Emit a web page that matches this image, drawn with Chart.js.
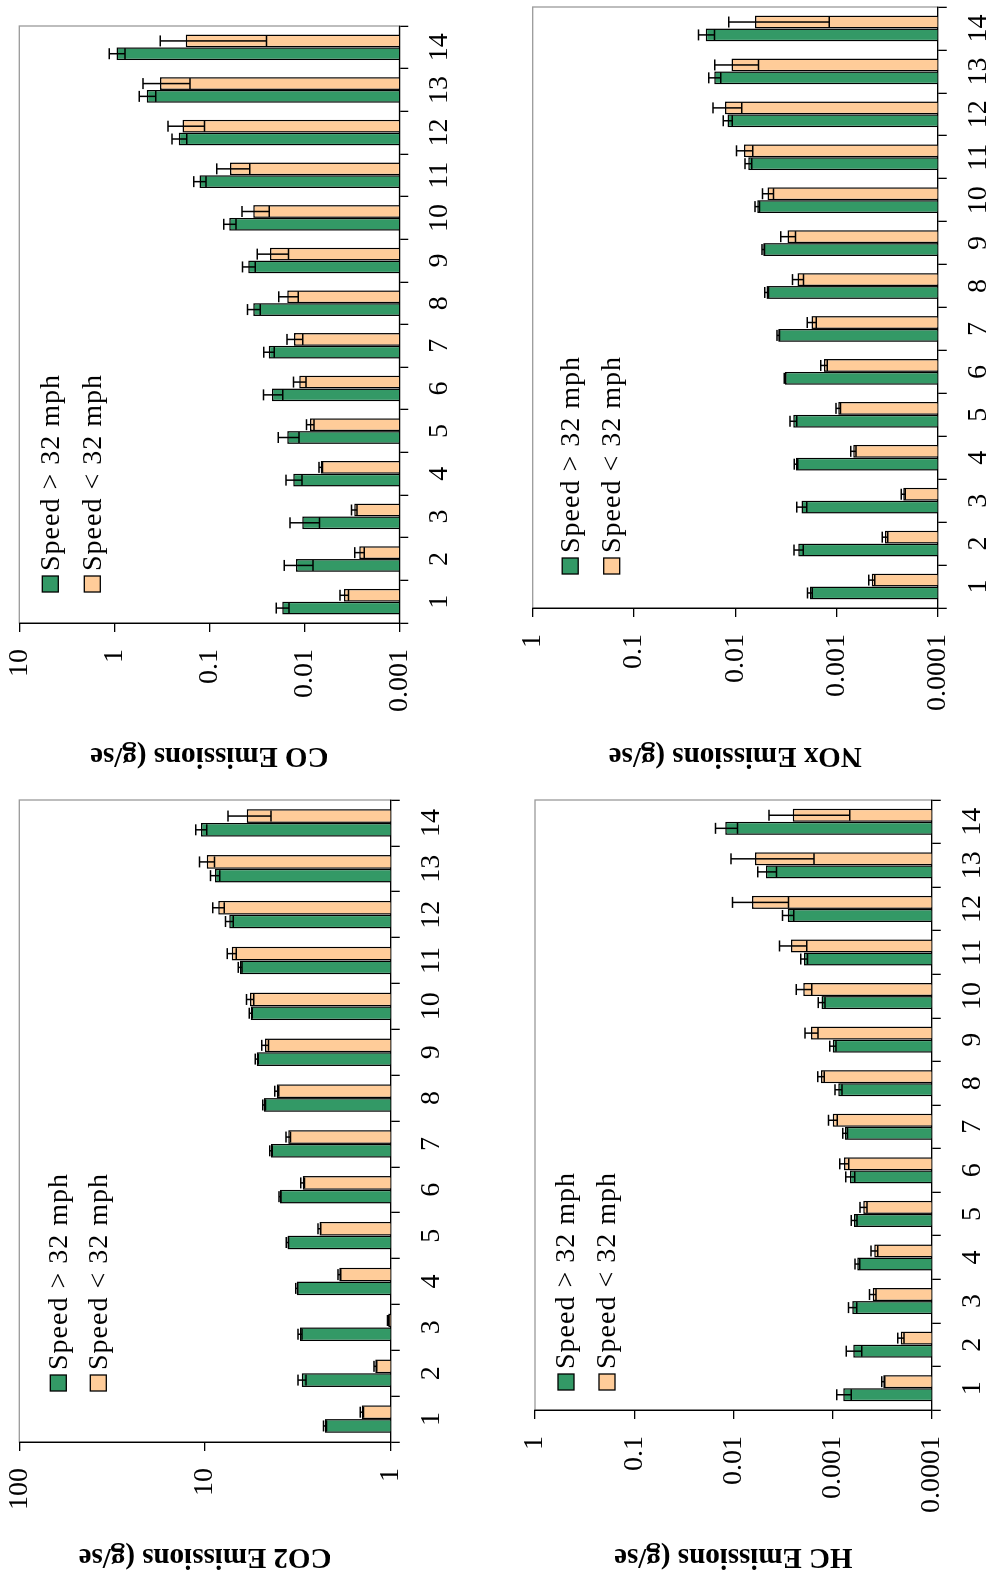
<!DOCTYPE html>
<html>
<head>
<meta charset="utf-8">
<script src="https://cdn.jsdelivr.net/npm/chart.js@4.4.0/dist/chart.umd.min.js"></script>
<style>
  html, body { margin: 0; padding: 0; background: #fff; overflow: hidden; }
  /* the figure is laid out upright, then turned a quarter turn like the scan */
  #page {
    position: absolute; left: 0; top: 0;
    width: 1585px; height: 990px;
    transform-origin: 0 0;
    transform: translateY(1585px) rotate(-90deg);
    background: #fff;
  }
  #page canvas { position: absolute; }
</style>
</head>
<body>
<div id="page">
  <canvas id="co2" width="792" height="495" style="left:0;top:0;width:792px;height:495px"></canvas>
  <canvas id="co" width="790" height="495" style="left:795px;top:0;width:790px;height:495px"></canvas>
  <canvas id="hc" width="792" height="495" style="left:0;top:495px;width:792px;height:495px"></canvas>
  <canvas id="nox" width="790" height="495" style="left:795px;top:495px;width:790px;height:495px"></canvas>
</div>
<script>
var categories = ['1', '2', '3', '4', '5', '6', '7', '8', '9', '10', '11', '12', '13', '14'];
var seriesLabels = ['Speed > 32 mph', 'Speed < 32 mph'];

// CO2 (g/sec)
var co2Fast    = [2.26, 3.01, 3.08, 3.21, 3.60, 3.95, 4.41, 4.81, 5.27, 5.67, 6.48, 7.40, 8.83, 10.5];
var co2FastErr = [0.04, 0.15, 0.08, 0.04, 0.05, 0.05, 0.07, 0.08, 0.1, 0.1, 0.15, 0.35, 0.5, 0.7];
var co2Slow    = [1.43, 1.21, 1.03, 1.89, 2.42, 2.98, 3.56, 4.11, 4.75, 5.72, 7.18, 8.48, 9.8, 5.96];
var co2SlowErr = [0.03, 0.02, 0.01, 0.03, 0.04, 0.07, 0.1, 0.1, 0.2, 0.25, 0.4, 0.6, 0.9, 1.55];
var co2Ticks   = [1, 10, 100];

// CO
var coFast    = [0.0171, 0.0122, 0.0105, 0.0131, 0.0151, 0.0219, 0.0237, 0.0344, 0.0388, 0.0615, 0.127, 0.210, 0.456, 0.950];
var coFastErr = [0.0026, 0.0041, 0.0036, 0.0025, 0.0037, 0.005, 0.003, 0.0053, 0.006, 0.009, 0.019, 0.037, 0.09, 0.18];
var coSlow    = [0.00382, 0.00264, 0.00298, 0.00672, 0.0087, 0.0113, 0.0128, 0.0151, 0.0230, 0.0344, 0.0605, 0.192, 0.330, 0.177];
var coSlowErr = [0.0004, 0.0003, 0.0002, 0.0003, 0.0008, 0.0017, 0.0024, 0.0035, 0.0083, 0.011, 0.023, 0.08, 0.17, 0.152];
var coTicks   = [0.001, 0.01, 0.1, 1, 10];

// HC
var hcFast    = [0.000778, 0.000617, 0.000631, 0.000562, 0.000607, 0.000666, 0.000748, 0.000874, 0.000995, 0.00129, 0.00194, 0.00283, 0.00468, 0.0121];
var hcFastErr = [0.00013, 0.00011, 0.00006, 0.00003, 0.00004, 0.00007, 0.00004, 0.00007, 0.00007, 0.0001, 0.00015, 0.00037, 0.001, 0.003];
var hcSlow    = [0.000308, 0.000205, 0.000394, 0.000379, 0.000489, 0.000766, 0.000995, 0.00131, 0.00165, 0.00197, 0.00262, 0.00648, 0.00604, 0.00252];
var hcSlowErr = [0.00001, 0.000015, 0.00003, 0.00003, 0.00004, 0.00008, 0.0001, 0.0001, 0.00025, 0.00035, 0.0008, 0.0037, 0.0045, 0.00185];
var hcTicks   = [0.0001, 0.001, 0.01, 0.1, 1];

// NOx
var noxFast    = [0.00183, 0.00238, 0.00221, 0.00251, 0.00267, 0.00323, 0.00376, 0.0049, 0.00529, 0.00606, 0.00744, 0.0119, 0.0161, 0.0195];
var noxFastErr = [0.0001, 0.00025, 0.00025, 0.0001, 0.0002, 0.00005, 0.0001, 0.0002, 0.00015, 0.0003, 0.00056, 0.0012, 0.0022, 0.0035];
var noxSlow    = [0.000449, 0.000332, 0.000219, 0.000682, 0.00096, 0.00133, 0.00176, 0.00242, 0.00304, 0.00479, 0.0082, 0.0126, 0.0109, 0.00638];
var noxSlowErr = [0.00003, 0.00002, 0.00001, 0.00004, 0.00005, 0.0001, 0.00018, 0.0003, 0.0005, 0.0006, 0.0015, 0.004, 0.005, 0.0052];
var noxTicks   = [0.0001, 0.001, 0.01, 0.1, 1];

var FONT = 'Liberation Serif';
var GREEN = '#339966';
var PEACH = '#FFCC99';

Chart.defaults.font.family = FONT;
Chart.defaults.color = '#000';

function makePanel(id, fast, fastErr, slow, slowErr, ticks, titleText, box) {
  var errs = [fastErr, slowErr];

  // light grey plot-area frame, axes drawn over it in black
  var frame = {
    id: 'frame',
    beforeDraw: function (chart) {
      var ca = chart.chartArea, ctx = chart.ctx;
      ctx.save();
      ctx.strokeStyle = '#9a9a9a';
      ctx.lineWidth = 1.3;
      ctx.strokeRect(ca.left, ca.top, ca.right - ca.left, ca.bottom - ca.top);
      ctx.restore();
    }
  };

  // +/- error bars
  var errorBars = {
    id: 'errorBars',
    afterDatasetsDraw: function (chart) {
      var ctx = chart.ctx, y = chart.scales.y;
      ctx.save();
      ctx.strokeStyle = '#000';
      ctx.lineWidth = 1.5;
      chart.data.datasets.forEach(function (ds, i) {
        chart.getDatasetMeta(i).data.forEach(function (bar, j) {
          var v = ds.data[j], e = errs[i][j];
          var top = y.getPixelForValue(v + e);
          var bot = (v - e > y.min) ? y.getPixelForValue(v - e) : y.bottom;
          ctx.beginPath();
          ctx.moveTo(bar.x, top); ctx.lineTo(bar.x, bot);
          ctx.moveTo(bar.x - 5.5, top); ctx.lineTo(bar.x + 5.5, top);
          ctx.moveTo(bar.x - 5.5, bot); ctx.lineTo(bar.x + 5.5, bot);
          ctx.stroke();
        });
      });
      ctx.restore();
    }
  };

  // legend sits inside the plot area
  var innerLegend = {
    id: 'innerLegend',
    afterDraw: function (chart) {
      var ca = chart.chartArea, ctx = chart.ctx;
      ctx.save();
      ctx.font = '28px "' + FONT + '"';
      if ('letterSpacing' in ctx) ctx.letterSpacing = '1px';
      ctx.textBaseline = 'middle';
      chart.data.datasets.forEach(function (ds, i) {
        var x = ca.left + box.legX, cy = ca.top + box.legY[i];
        ctx.fillStyle = ds.backgroundColor;
        ctx.fillRect(x, cy - 8, 16, 16);
        ctx.strokeStyle = '#000';
        ctx.lineWidth = 1.3;
        ctx.strokeRect(x, cy - 8, 16, 16);
        ctx.fillStyle = '#000';
        ctx.fillText(ds.label, x + 21, cy + 1);
      });
      ctx.restore();
    }
  };

  return new Chart(document.getElementById(id), {
    type: 'bar',
    data: {
      labels: categories,
      datasets: [{
        label: seriesLabels[0],
        data: fast,
        backgroundColor: GREEN,
        borderColor: '#000',
        borderWidth: 1.5,
        categoryPercentage: 0.6,
        barPercentage: 1.0
      }, {
        label: seriesLabels[1],
        data: slow,
        backgroundColor: PEACH,
        borderColor: '#000',
        borderWidth: 1.5,
        categoryPercentage: 0.6,
        barPercentage: 1.0
      }]
    },
    options: {
      responsive: false,
      animation: false,
      layout: { padding: { left: 0, top: box.padTop, right: box.padRight, bottom: box.padBottom } },
      plugins: { legend: { display: false }, tooltip: { enabled: false } },
      scales: {
        x: {
          type: 'category',
          afterFit: function (s) { s.height = 50; s.paddingLeft = 0; s.paddingRight = 0; },
          ticks: { font: { size: 28 }, color: '#000', padding: 15, maxRotation: 0, autoSkip: false },
          grid: { offset: true, drawOnChartArea: false, tickLength: 9, color: '#000', lineWidth: 1.3 },
          border: { color: '#000', width: 1.3 }
        },
        y: {
          type: 'logarithmic',
          min: ticks[0],
          max: ticks[ticks.length - 1],
          afterBuildTicks: function (s) {
            s.ticks = ticks.map(function (v) { return { value: v }; });
          },
          afterFit: function (s) { s.width = box.axisW; s.paddingTop = 0; s.paddingBottom = 0; },
          ticks: {
            font: { size: 28 }, color: '#000', padding: 17, autoSkip: false,
            callback: function (v) { return String(v); }
          },
          grid: { drawOnChartArea: false, tickLength: 9, color: '#000', lineWidth: 1.3 },
          border: { color: '#000', width: 1.3 },
          title: {
            display: true,
            text: titleText,
            color: '#000',
            font: { size: 29, weight: 'bold' },
            padding: { top: box.titlePad, bottom: 0 }
          }
        }
      }
    },
    plugins: [frame, errorBars, innerLegend]
  });
}

makePanel('co2', co2Fast, co2FastErr, co2Slow, co2SlowErr, co2Ticks, 'CO2 Emissions (g/se',
  { axisW: 143, padTop: 19.3, padRight: 7, padBottom: 54.3, titlePad: 11, legX: 51, legY: [39, 79] });
makePanel('co', coFast, coFastErr, coSlow, coSlowErr, coTicks, 'CO Emissions (g/se',
  { axisW: 167, padTop: 19.3, padRight: 26, padBottom: 45.7, titlePad: 17.6, legX: 31, legY: [31, 73] });
makePanel('hc', hcFast, hcFastErr, hcSlow, hcSlowErr, hcTicks, 'HC Emissions (g/se',
  { axisW: 175, padTop: 40, padRight: 7, padBottom: 8.3, titlePad: 11, legX: 20, legY: [31, 72] });
makePanel('nox', noxFast, noxFastErr, noxSlow, noxSlowErr, noxTicks, 'NOx Emissions (g/se',
  { axisW: 182, padTop: 37.7, padRight: 7, padBottom: 2.3, titlePad: 17.6, legX: 34, legY: [37.5, 79] });
</script>
</body>
</html>
